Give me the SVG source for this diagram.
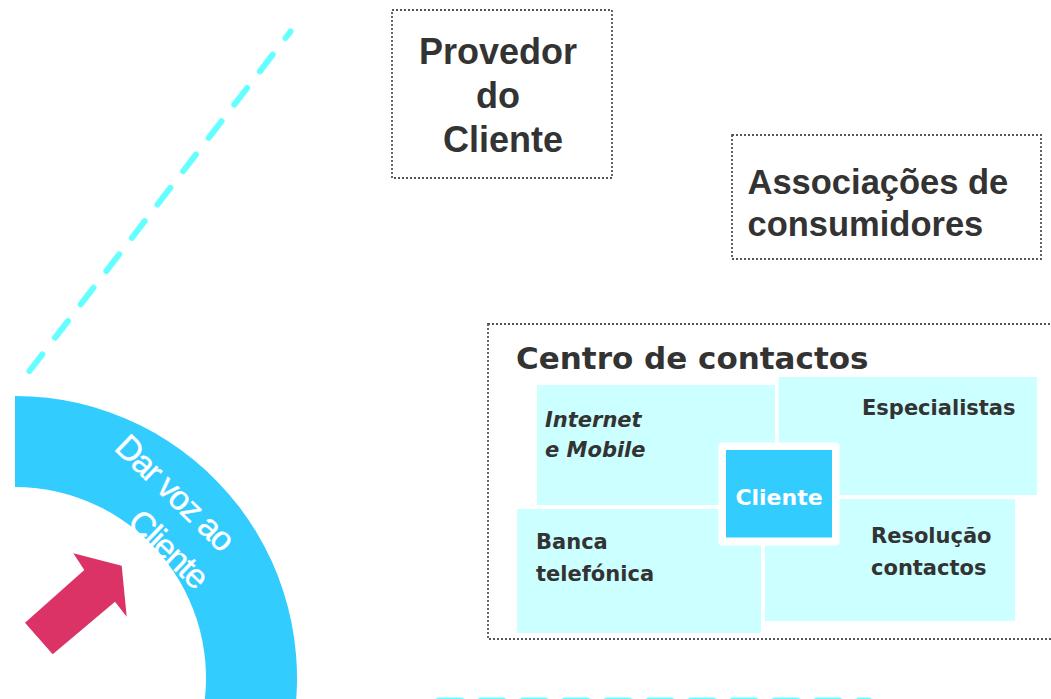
<svg xmlns="http://www.w3.org/2000/svg" width="1051" height="699" viewBox="0 0 1051 699">
  <style>
    .dot { fill: none; stroke: #555555; stroke-width: 1.8; stroke-dasharray: 2 2; }
    .guide { fill: none; stroke: #66FFFF; stroke-width: 6; stroke-linecap: round; }
    .tile { fill: #CCFFFF; }
    .big { font-family: "Liberation Sans", Arial, sans-serif; font-weight: bold; fill: #333333; }
    .tah { font-family: "DejaVu Sans", Verdana, sans-serif; font-weight: bold; fill: #333333; }
    .ring-text { font-family: "Liberation Sans", Arial, sans-serif; font-size: 34px; fill: #FFFFFF; stroke: #FFFFFF; stroke-width: 0.4; letter-spacing: -1.5px; }
  </style>

  <rect width="1051" height="699" fill="#FFFFFF"/>

  <g id="guides">
    <line class="guide" x1="29.5" y1="371" x2="290.5" y2="31.5" stroke-dasharray="21 21"/>
    <line class="guide" x1="438.7" y1="700.5" x2="869" y2="700.5" stroke-dasharray="22.6 19.4"/>
  </g>

  <g id="dar-voz">
    <path d="M15 396 A282 282 0 0 1 287.4 751 L199.5 727.4 A191 191 0 0 0 15 487 Z" fill="#33CCFF"/>
    <text class="ring-text" transform="translate(113 449) rotate(44)">Dar voz ao</text>
    <text class="ring-text" transform="translate(126 524) rotate(44)">Cliente</text>
  </g>

  <g id="connectors">
    <path d="M25 622.7 L84.3 570 L73.3 553.3 L121.7 565.7 L126.7 616.7 L115 601.7 L52.7 654.3 Z" fill="#DC3366"/>
  </g>

  <g id="provedor">
    <rect class="dot" x="392" y="10" width="220" height="168"/>
    <text class="big" font-size="36" text-anchor="middle">
      <tspan x="503" y="63.5">Provedor</tspan>
      <tspan x="503" y="107.5">do</tspan>
      <tspan x="503" y="151.5">Cliente</tspan>
    </text>
  </g>

  <g id="associacoes">
    <rect class="dot" x="732" y="135" width="309" height="124"/>
    <text class="big" font-size="34.5">
      <tspan x="747.5" y="193.5">Associações de</tspan>
      <tspan x="747.5" y="236">consumidores</tspan>
    </text>
  </g>

  <g id="centro">
    <rect class="dot" x="488" y="324" width="600" height="315"/>
    <text class="tah" font-size="31" x="516" y="369">Centro de contactos</text>
  </g>

  <g id="internet">
    <rect class="tile" x="537" y="385" width="238" height="120"/>
    <text class="tah" font-size="21" font-style="italic">
      <tspan x="545" y="427">Internet</tspan>
      <tspan x="545" y="457">e Mobile</tspan>
    </text>
  </g>

  <g id="especialistas">
    <rect class="tile" x="778.5" y="377" width="258.5" height="118"/>
    <text class="tah" font-size="21" x="862" y="415">Especialistas</text>
  </g>

  <g id="banca">
    <rect class="tile" x="517" y="509" width="244" height="124"/>
    <text class="tah" font-size="21">
      <tspan x="536" y="549">Banca</tspan>
      <tspan x="536" y="581">telefónica</tspan>
    </text>
  </g>

  <g id="resolucao">
    <rect class="tile" x="765" y="499" width="250" height="122"/>
    <text class="tah" font-size="21">
      <tspan x="871" y="543">Resolução</tspan>
      <tspan x="871" y="575">contactos</tspan>
    </text>
  </g>

  <g id="cliente">
    <rect x="718.5" y="442.5" width="121" height="103" rx="4" fill="#FFFFFF"/>
    <rect x="726" y="450" width="106" height="87.5" fill="#33CCFF"/>
    <text class="tah" font-size="22" x="779" y="505" text-anchor="middle" style="fill:#FFFFFF">Cliente</text>
  </g>
</svg>
